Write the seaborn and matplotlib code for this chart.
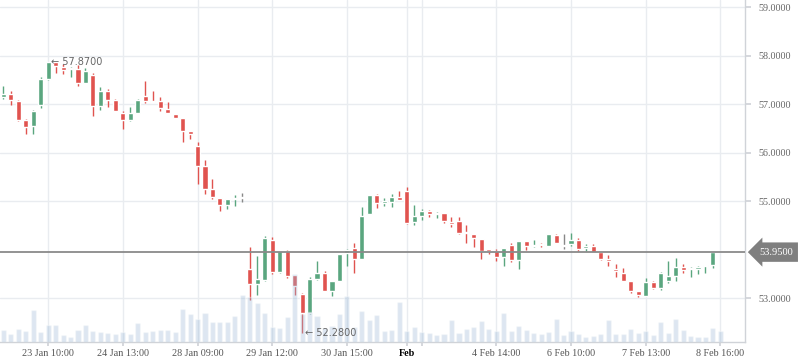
import numpy as np
import pandas as pd
import matplotlib.pyplot as plt
import seaborn as sns

# OHLC, one candle per period
opens = [57.14, 57.21, 57.07, 56.67, 56.55, 56.99, 57.52, 57.86, 57.77, 57.72,
         57.72, 57.44, 57.60, 56.97, 57.27, 57.09, 56.82, 56.67, 56.82, 57.17,
         57.07, 57.07, 56.90, 56.80, 56.72, 56.45, 56.13, 55.73, 55.25, 55.07,
         54.92, 55.05, 55.06, 53.60, 53.29, 53.38, 54.21, 53.55, 53.98, 53.48,
         53.09, 52.70, 53.40, 53.53, 53.15, 53.35, 53.93, 54.03, 53.80, 54.73,
         55.13, 54.97, 54.99, 55.08, 55.21, 54.58, 54.70, 54.80, 54.74, 54.75,
         54.58, 54.59, 54.35, 54.32, 54.23, 53.99, 53.97, 53.84, 54.10, 53.79,
         54.17, 54.07, 54.10, 54.08, 54.30, 54.08, 54.12, 54.20, 54.03, 54.08,
         53.95, 53.81, 53.60, 53.51, 53.36, 53.15, 53.05, 53.33, 53.22, 53.35,
         53.46, 53.64, 53.60, 53.60, 53.66, 53.68, 53.95]
highs = [57.38, 57.27, 57.08, 56.69, 56.87, 57.57, 57.87, 57.87, 57.83, 57.77,
         57.81, 57.75, 57.64, 57.36, 57.31, 57.10, 56.85, 56.95, 57.10, 57.48,
         57.27, 57.14, 57.04, 56.80, 56.72, 56.45, 56.23, 55.85, 55.46, 55.07,
         55.04, 55.12, 55.16, 54.05, 53.87, 54.28, 54.26, 53.97, 53.99, 53.48,
         53.11, 53.43, 53.77, 53.57, 53.35, 53.91, 54.01, 54.14, 54.89, 55.13,
         55.15, 55.06, 55.15, 55.20, 55.29, 54.92, 54.84, 54.82, 54.78, 54.76,
         54.67, 54.67, 54.51, 54.32, 54.23, 54.01, 54.01, 54.03, 54.13, 54.18,
         54.17, 54.19, 54.14, 54.32, 54.32, 54.32, 54.35, 54.25, 54.11, 54.12,
         53.95, 53.89, 53.71, 53.62, 53.36, 53.15, 53.42, 53.35, 53.55, 53.77,
         53.82, 53.71, 53.65, 53.67, 53.68, 53.95, 53.95]
lows = [57.10, 56.98, 56.66, 56.39, 56.39, 56.92, 57.50, 57.65, 57.62, 57.57,
        57.38, 57.44, 56.76, 56.88, 56.95, 56.85, 56.49, 56.66, 56.81, 57.02,
        57.05, 56.85, 56.81, 56.72, 56.23, 56.28, 55.35, 55.15, 55.04, 54.80,
        54.84, 54.90, 54.98, 52.96, 53.07, 53.36, 53.50, 53.53, 53.42, 53.07,
        52.28, 52.67, 53.38, 53.15, 53.05, 53.35, 53.67, 53.53, 53.80, 54.73,
        54.87, 54.90, 54.89, 55.02, 54.53, 54.51, 54.61, 54.67, 54.66, 54.56,
        54.47, 54.32, 54.14, 54.06, 53.81, 53.91, 53.77, 53.66, 53.75, 53.60,
        54.00, 54.06, 54.05, 54.08, 54.13, 54.01, 54.08, 53.98, 53.98, 53.95,
        53.79, 53.67, 53.44, 53.36, 53.11, 53.02, 53.05, 53.19, 53.17, 53.31,
        53.35, 53.53, 53.43, 53.50, 53.53, 53.63, 53.95]
closes = [57.21, 57.09, 56.67, 56.53, 56.85, 57.52, 57.86, 57.79, 57.71, 57.73,
          57.44, 57.68, 56.97, 57.27, 57.09, 56.85, 56.67, 56.82, 57.09, 57.07,
          57.05, 56.92, 56.81, 56.72, 56.45, 56.39, 55.73, 55.25, 55.08, 54.92,
          55.04, 55.07, 55.06, 53.29, 53.40, 54.24, 53.55, 53.97, 53.46, 53.25,
          52.70, 53.40, 53.53, 53.15, 53.35, 53.91, 54.00, 53.80, 54.69, 55.13,
          54.96, 54.99, 55.08, 55.02, 54.56, 54.69, 54.80, 54.73, 54.76, 54.59,
          54.53, 54.34, 54.34, 54.25, 53.98, 53.98, 53.84, 54.03, 53.79, 54.17,
          54.08, 54.08, 54.09, 54.32, 54.14, 54.08, 54.20, 54.01, 54.08, 53.95,
          53.81, 53.77, 53.57, 53.36, 53.15, 53.07, 53.33, 53.22, 53.53, 53.46,
          53.64, 53.58, 53.61, 53.64, 53.67, 53.95, 53.95]
volumes = [1200, 800, 1300, 1100, 3200, 1000, 1700, 1700, 700, 500,
           1200, 1700, 1100, 1000, 900, 800, 1000, 800, 1900, 1000,
           1100, 1200, 1200, 1000, 3300, 2800, 2300, 2900, 2000, 2000,
           2000, 2600, 4700, 4500, 3900, 2900, 1500, 1400, 2500, 6800,
           2800, 3000, 2600, 1400, 1600, 2800, 4600, 1500, 3100, 2200,
           2700, 1100, 1200, 4000, 1100, 1500, 1000, 900, 700, 800,
           2200, 900, 1300, 1500, 2100, 1300, 1100, 2900, 1100, 1600,
           1200, 900, 800, 1000, 2300, 700, 1100, 800, 500, 600,
           800, 2200, 800, 800, 1300, 900, 1100, 700, 2000, 900,
           2300, 1200, 600, 500, 500, 1400, 1100]

tick_pos = [6, 16, 26, 36, 46, 54, 56, 66, 76, 86, 96]
tick_labels = ['23 Jan 10:00', '24 Jan 13:00', '28 Jan 09:00', '29 Jan 12:00',
               '30 Jan 15:00', 'Feb', '', '4 Feb 14:00', '6 Feb 10:00',
               '7 Feb 13:00', '8 Feb 16:00']
price_ticks = [53, 55, 56, 57, 58, 59]
last_price = 53.95
high_idx, high_val = 6, 57.87
low_idx, low_val = 40, 52.28

df = pd.DataFrame({'open': opens, 'high': highs, 'low': lows,
                   'close': closes, 'volume': volumes})
df['idx'] = np.arange(len(df))

up_col, down_col, flat_col = '#5aa67f', '#e0534f', '#888888'
df['color'] = np.where(df['close'] > df['open'], up_col,
                       np.where(df['close'] < df['open'], down_col, flat_col))
df['body_lo'] = df[['open', 'close']].min(axis=1)
df['body_h'] = (df['close'] - df['open']).abs().clip(lower=0.025)

sns.set_theme(style='white')
plt.rcParams['font.family'] = ['Liberation Serif', 'DejaVu Serif']

fig = plt.figure(figsize=(7.98, 3.63), dpi=100)
ax = fig.add_axes([0, 20.7 / 363, 745 / 798, 342.3 / 363])

# candles
ax.vlines(df['idx'], df['low'], df['high'], colors=df['color'], lw=1, zorder=3)
ax.bar(df['idx'], df['body_h'], bottom=df['body_lo'], width=0.68,
       color=df['color'], zorder=3)
ax.axhline(last_price, color='#8a8a8a', lw=1.3, zorder=4)

# volume on a twin axis, drawn over the candles
ax2 = ax.twinx()
sns.barplot(data=df, x='idx', y='volume', ax=ax2, color='#9ebad7',
            alpha=0.35, width=0.68, saturation=1, errorbar=None)
ax2.set_ylim(0, 34230)
ax2.set_yticks([])
ax2.set_ylabel('')
for s in ax2.spines.values():
    s.set_visible(False)

ax.yaxis.tick_right()
ax.set_xlim(-0.44, 99.29)
ax.set_ylim(52.091, 59.148)
ax.set_xticks(tick_pos)
ax.set_xticklabels(tick_labels)
ax.set_yticks(price_ticks)
ax.set_yticklabels([f'{v:.4f}' for v in price_ticks])
ax.grid(True, color='#e9ecf0', lw=1)
ax.set_axisbelow(True)
ax.tick_params(axis='x', labelsize=7.3, colors='#d0d3d8', labelcolor='#555555',
               length=3, pad=2, bottom=True)
ax.tick_params(axis='y', labelsize=7.3, colors='#d0d3d8', labelcolor='#666666',
               length=4, pad=6, right=True, left=False)
for lab in ax.get_xticklabels():
    if lab.get_text() == 'Feb':
        lab.set_fontweight('bold')
        lab.set_color('black')
for side in ['top', 'left']:
    ax.spines[side].set_visible(False)
for side in ['right', 'bottom']:
    ax.spines[side].set_color('#d0d3d8')
    ax.spines[side].set_linewidth(1)

# high / low markers
ax2.text(high_idx + 0.35, high_val, f'\u2190 {high_val:.4f}', transform=ax.transData,
         ha='left', va='center', fontsize=7, color='#666666', family='DejaVu Sans',
         zorder=6)
ax2.text(low_idx + 0.4, low_val, f'\u2190 {low_val:.4f}', transform=ax.transData,
         ha='left', va='center', fontsize=7, color='#666666', family='DejaVu Sans',
         zorder=6)

# last price tag
ax.annotate(f'{last_price:.4f}', xy=(1.0, last_price),
            xycoords=('axes fraction', 'data'), xytext=(14, 0),
            textcoords='offset pixels', ha='left', va='center', fontsize=7.5,
            color='white', annotation_clip=False,
            bbox=dict(boxstyle='larrow,pad=0.5', fc='#7f7f7f', ec='none'))

fig.savefig('out.png', dpi=100)
